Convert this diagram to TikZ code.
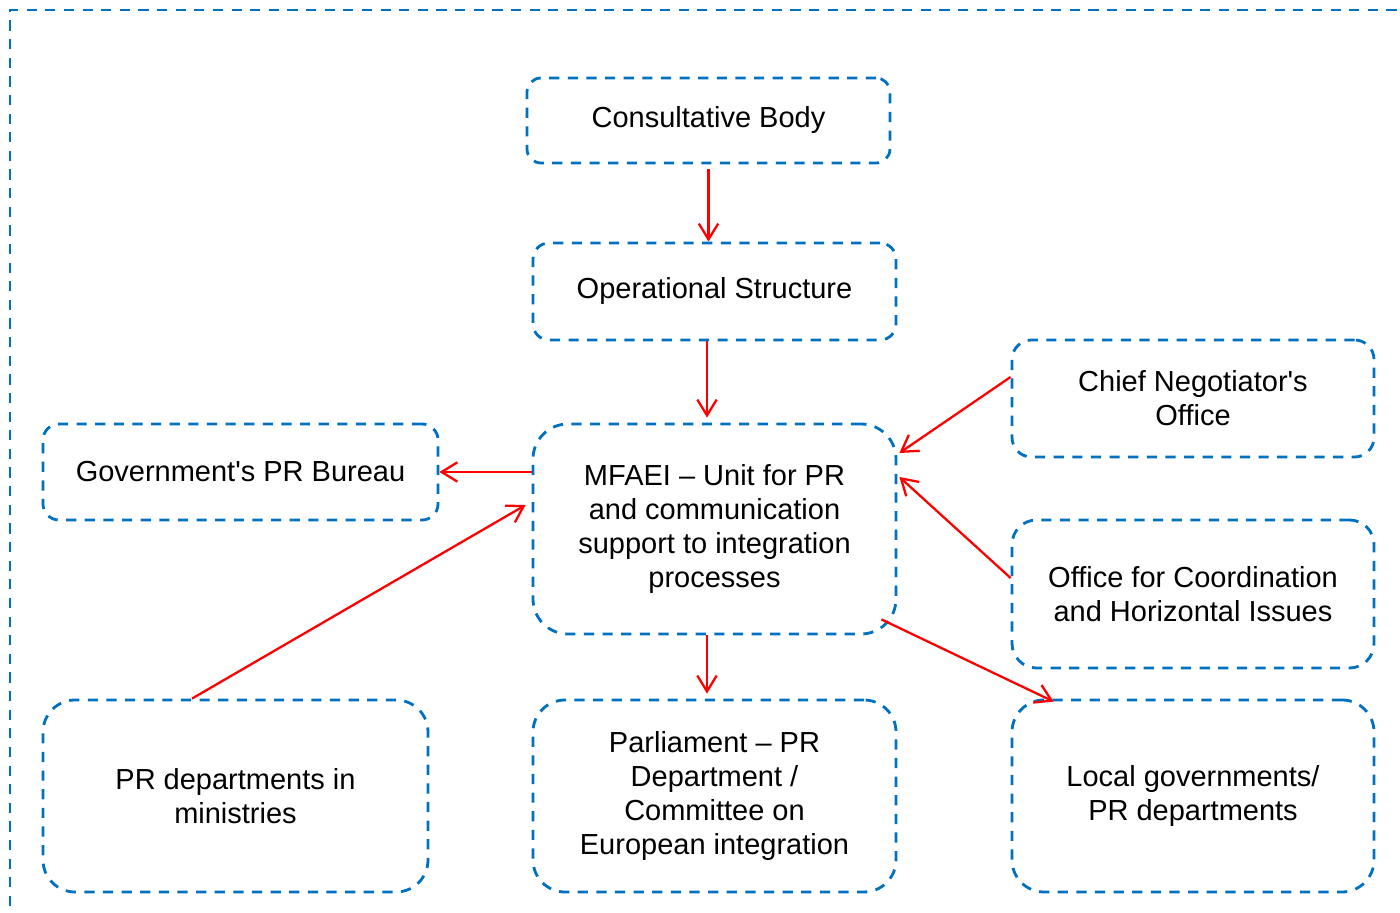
\documentclass[tikz,border=0pt]{standalone}
\usepackage{fontspec}
\setmainfont{Liberation Sans}
\usepackage{tikz}
\usetikzlibrary{arrows.meta}
\usetikzlibrary{positioning}

\definecolor{frameblue}{HTML}{0070C0}
\definecolor{flowred}{HTML}{FF0000}

\tikzset{
  blbox/.style={draw=frameblue, line width=1.6pt, dash pattern=on 5.8pt off 4.8pt,
    rounded corners=#1, align=center, inner sep=0pt,
    font=\fontsize{16.5}{19.3}\selectfont},
  blbox/.default=0.3cm,
  flow/.style={draw=flowred, line width=1.3pt, -{Straight Barb[length=9pt,width=11pt]}}
}

\begin{document}
\begin{tikzpicture}

  \useasboundingbox (0,0) rectangle (28,18.24);
  \draw[draw=frameblue, line width=1.6pt, dash pattern=on 5.8pt off 4.8pt] (0.2,-1) rectangle (29,18.04);

  \node[blbox=0.28cm, minimum width=7.26cm, minimum height=1.70cm] at (14.17,15.83) (cb) {Consultative Body};
  \node[blbox=0.32cm, minimum width=7.26cm, minimum height=1.94cm] at (14.29,12.41) (os) {Operational Structure};
  \node[blbox=0.70cm, minimum width=7.26cm, minimum height=4.20cm] at (14.29,7.66) (mf)
    {MFAEI -- Unit for PR\\and communication\\support to integration\\processes};
  \node[blbox=0.32cm, minimum width=7.90cm, minimum height=1.92cm] at (4.81,8.80) (gov) {Government\textquotesingle s PR Bureau};
  \node[blbox=0.39cm, minimum width=7.24cm, minimum height=2.34cm] at (23.86,10.27) (cno) {Chief Negotiator\textquotesingle s\\Office};
  \node[blbox=0.49cm, minimum width=7.24cm, minimum height=2.96cm] at (23.86,6.36) (och)
    {Office for Coordination\\and Horizontal Issues};
  \node[blbox=0.64cm, minimum width=7.70cm, minimum height=3.84cm] at (4.71,2.32) (prm) {PR departments in\\ministries};
  \node[blbox=0.64cm, minimum width=7.26cm, minimum height=3.84cm] at (14.29,2.32) (par)
    {Parliament -- PR\\Department /\\Committee on\\European integration};
  \node[blbox=0.64cm, minimum width=7.24cm, minimum height=3.84cm] at (23.86,2.32) (loc) {Local governments/\\PR departments};

  % vertical chain
  \draw[flow] ([yshift=-0.1cm]cb.south) -- (cb.south |- os.north);
  \draw[flow] ([xshift=-1.5mm]os.south) -- ([xshift=-1.5mm,yshift=1mm]mf.north);
  \draw[flow] ([xshift=-1.5mm]mf.south) -- ([xshift=-1.5mm,yshift=1mm]par.north);

  \draw[flow] (mf.west |- gov.east) -- (gov.east);
  \draw[flow] ([xshift=-8.7mm]prm.north) -- ([xshift=-1.2mm,yshift=4.8mm]mf.west);
  \draw[flow] ([yshift=4.3mm]cno.west) -- ([xshift=0.4mm,yshift=15.2mm]mf.east);
  \draw[flow] ([yshift=3.2mm]och.west) -- ([xshift=0.4mm,yshift=10.4mm]mf.east);
  \draw[flow] ([xshift=-3.2mm,yshift=3.2mm]mf.south east) -- ([xshift=8.6mm,yshift=-0.6mm]loc.north west);
\end{tikzpicture}
\end{document}
